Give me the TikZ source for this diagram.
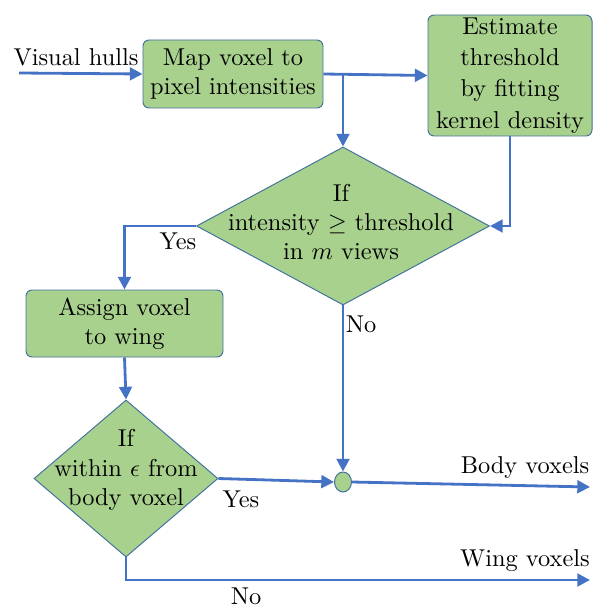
\documentclass[tikz,border=0pt]{standalone}
\usetikzlibrary{arrows.meta,shapes.geometric,calc}
\definecolor{boxfill}{HTML}{A9D18E}
\definecolor{boxedge}{HTML}{41719C}
\definecolor{flow}{HTML}{4472C4}
\begin{document}
\begin{tikzpicture}[x=0.41pt,y=-0.41pt,
  box/.style={draw=boxedge,fill=boxfill,rounded corners=2.5pt,line width=0.4pt,align=center,inner sep=0pt},
  dia/.style={draw=boxedge,fill=boxfill,diamond,line width=0.4pt,inner sep=0pt},
  lbl/.style={inner sep=0pt,align=center},
  flowline/.style={draw=flow,line width=1.15pt,-{Triangle[length=5.2pt,width=5.2pt]}},
  plainline/.style={draw=flow,line width=1.15pt}]
\useasboundingbox (0,0) rectangle (596,607);
% nodes
\node[box,minimum width={180*0.41pt},minimum height={68*0.41pt}] (b1) at (233,74) {Map voxel to\\pixel intensities};
\node[box,minimum width={164*0.41pt},minimum height={121*0.41pt}] (b2) at (510,75.5) {Estimate\\[0.8pt]threshold\\[0.8pt]by fitting\\[0.8pt]kernel density};
\node[dia,minimum width={293*0.41pt},minimum height={158*0.41pt}] (d1) at (343,226) {};
\node[lbl] (d1t) at (341,222) {If\\intensity $\geq$ threshold\\in $m$ views};
\node[box,minimum width={197*0.41pt},minimum height={67*0.41pt}] (b3) at (124.5,323.5) {Assign voxel\\to wing};
\node[dia,minimum width={184*0.41pt},minimum height={157*0.41pt}] (d2) at (126,478.5) {};
\node[lbl] (d2t) at (126,470) {If\\within $\epsilon$ from\\body voxel};
\node[ellipse,draw=boxedge,fill=boxfill,line width=0.4pt,inner sep=0pt,minimum width={17*0.41pt},minimum height={20*0.41pt}] (jn) at (343,482) {};
\coordinate (vin) at (19,73);
\coordinate (bodyend) at (590,487);
\coordinate (wingend) at (590,580);
% labels
\node[lbl] (tvh) at (76,57) {Visual hulls};
\node[lbl] (tyes1) at (178,241) {Yes};
\node[lbl] (tno1) at (361,324) {No};
\node[lbl] (tyes2) at (241,499) {Yes};
\node[lbl] (tbody) at (525,468) {Body voxels};
\node[lbl] (twing) at (525,561) {Wing voxels};
\node[lbl] (tno2) at (246,596) {No};
% connectors
\draw[flowline] (vin) -- (b1.west);
\draw[flowline] (b1.east) -- (b2.west);
\draw[flowline] (b1.east -| d1.north) -- (d1.north);
\draw[flowline] (b2.south) |- (d1.east);
\draw[flowline] (d1.west) -| (b3.north);
\draw[flowline] (b3.south) -- (d2.north);
\draw[flowline] (d2.east) -- (jn.west);
\draw[flowline] (d1.south) -- (jn.north);
\draw[flowline] (jn.east) -- (bodyend);
\draw[flowline] (d2.south) |- (wingend);
\end{tikzpicture}
\end{document}
